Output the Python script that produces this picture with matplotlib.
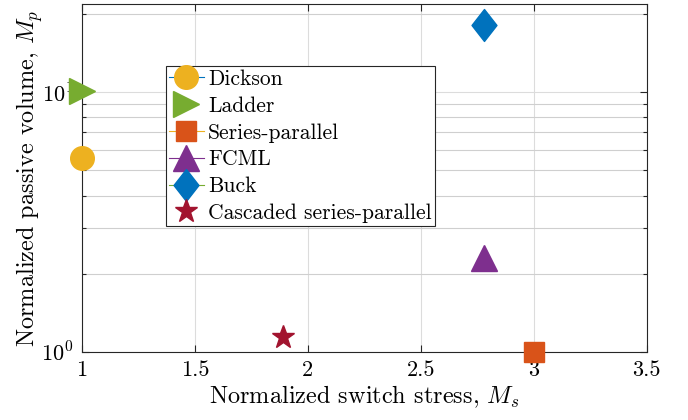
import matplotlib
matplotlib.use("Agg")
import matplotlib.pyplot as plt
from matplotlib.path import Path
from matplotlib.ticker import FixedLocator, NullFormatter, FixedFormatter

plt.rcParams['font.family'] = 'serif'
plt.rcParams['font.serif'] = ['cmr10']
plt.rcParams['mathtext.fontset'] = 'cm'
plt.rcParams['axes.formatter.use_mathtext'] = True

labels = ["Dickson", "Ladder", "Series-parallel", "FCML", "Buck", "Cascaded series-parallel"]
switch_stress = [1.0, 1.0, 3.0, 2.78, 2.78, 1.89]
passive_volume = [5.6, 10.1, 1.0, 2.3, 18.2, 1.14]

face_colors = ["#EDB120", "#77AC30", "#D95319", "#7E2F8E", "#0072BD", "#A2142F"]
line_colors = ["#0072BD", "#D95319", "#EDB120", "#7E2F8E", "#77AC30", "#4DBEEE"]
line_styles = ["-", "none", "-", "-", "-", "none"]

diamond = Path([(0, 1), (0.78, 0), (0, -1), (-0.78, 0), (0, 1)],
               [Path.MOVETO, Path.LINETO, Path.LINETO, Path.LINETO, Path.CLOSEPOLY])
markers = ["o", ">", "s", "^", diamond, "*"]
sizes = [17, 19, 14.5, 19, 23, 17]

fig = plt.figure(figsize=(6.88, 4.2), dpi=100)
ax = fig.add_axes([0.119, 0.162, 0.821, 0.828])

for x, y, lab, fc, lc, ls, m, s in zip(switch_stress, passive_volume, labels,
                                        face_colors, line_colors, line_styles, markers, sizes):
    ax.plot([x], [y], linestyle=ls, color=lc, linewidth=0.8, marker=m,
            markersize=s, markerfacecolor=fc, markeredgecolor=fc,
            label=lab, clip_on=False, zorder=5)

ax.set_yscale('log')
ax.set_xlim(1, 3.5)
ax.set_ylim(1, 21.8)
ax.set_xticks([1, 1.5, 2, 2.5, 3, 3.5])
ax.set_xticklabels(["1", "1.5", "2", "2.5", "3", "3.5"])
ax.yaxis.set_major_locator(FixedLocator([1, 10]))
ax.yaxis.set_major_formatter(FixedFormatter([r"$10^0$", r"$10^1$"]))
ax.yaxis.set_minor_locator(FixedLocator([2, 3, 4, 5, 6, 7, 8, 9, 20]))
ax.yaxis.set_minor_formatter(NullFormatter())

ax.tick_params(which='both', direction='in', top=True, right=True, labelsize=16,
               width=0.8, color='#262626')
ax.tick_params(which='major', length=5, pad=6)
ax.tick_params(which='minor', length=3)
ax.grid(True, which='major', axis='both', color='#dcdcdc', linewidth=0.8)
ax.grid(True, which='minor', axis='y', color='#cfcfcf', linewidth=0.8)
ax.set_axisbelow(True)
for sp in ax.spines.values():
    sp.set_linewidth(0.8)
    sp.set_color('#262626')

ax.set_xlabel(r"Normalized switch stress, $M_s$", fontsize=17.5, labelpad=3)
ax.set_ylabel(r"Normalized passive volume, $M_p$", fontsize=17.5, labelpad=-2.5)

leg = ax.legend(loc='upper left', bbox_to_anchor=(0.149, 0.822), borderaxespad=0,
                fontsize=15.5, frameon=True, fancybox=False, edgecolor='#262626',
                framealpha=1, handlelength=1.6, handletextpad=0.2, labelspacing=0.34,
                borderpad=0.15, markerscale=1.0)
leg.get_frame().set_linewidth(0.8)
leg.set_zorder(10)

fig.savefig("out.png", dpi=100)
